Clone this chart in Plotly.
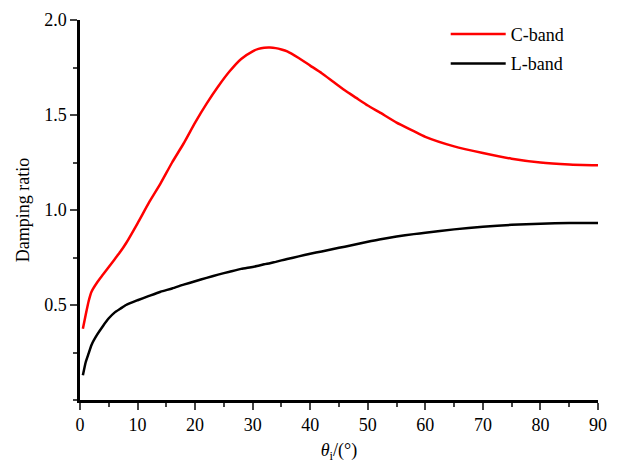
import plotly.graph_objects as go

theta = [0.5, 1, 1.5, 2, 3, 4, 5, 6, 7, 8, 10, 12, 14, 16, 18, 20, 22, 24, 26, 28,
         30, 31, 32, 33, 34, 35, 36, 38, 40, 42, 44, 46, 48, 50, 52, 55, 58, 60,
         65, 70, 75, 80, 85, 90]

c_band = [0.375, 0.45, 0.52, 0.57, 0.62, 0.66, 0.70, 0.74, 0.78, 0.825, 0.93, 1.04,
          1.14, 1.25, 1.35, 1.46, 1.56, 1.65, 1.73, 1.795, 1.835, 1.848, 1.854, 1.855,
          1.852, 1.845, 1.835, 1.80, 1.76, 1.72, 1.675, 1.63, 1.59, 1.55, 1.515, 1.46,
          1.415, 1.385, 1.335, 1.30, 1.27, 1.25, 1.24, 1.235]

l_band = [0.13, 0.20, 0.245, 0.29, 0.345, 0.39, 0.43, 0.46, 0.48, 0.50, 0.525, 0.548,
          0.57, 0.587, 0.607, 0.625, 0.643, 0.66, 0.675, 0.69, 0.70, 0.707, 0.714, 0.72,
          0.727, 0.735, 0.742, 0.756, 0.77, 0.782, 0.795, 0.807, 0.82, 0.833, 0.845,
          0.86, 0.873, 0.88, 0.898, 0.912, 0.922, 0.928, 0.932, 0.932]

x_ticks = [0, 10, 20, 30, 40, 50, 60, 70, 80, 90]
y_ticks = [0.5, 1.0, 1.5, 2.0]
y_tick_text = ["0.5", "1.0", "1.5", "2.0"]

FONT = "Liberation Serif, Times New Roman, serif"
FS = 18

fig = go.Figure()
fig.add_trace(go.Scatter(x=theta, y=c_band, mode="lines", name="C-band", legendgroup="c",
                         line=dict(color="#ff0000", width=2.5, shape="spline", smoothing=0.5)))
fig.add_trace(go.Scatter(x=theta, y=l_band, mode="lines", name="L-band", legendgroup="l",
                         line=dict(color="#000000", width=2.5, shape="spline", smoothing=0.5)))

# page body has an 8px default margin, so the figure is 8px smaller than the window
fig.update_layout(
    width=616, height=455,
    margin=dict(l=72, r=26, t=8, b=63),
    paper_bgcolor="white", plot_bgcolor="white",
    font=dict(family=FONT, size=FS, color="black"),
    showlegend=True,
    legend=dict(x=0.706, y=1.011, xanchor="left", yanchor="top",
                bgcolor="rgba(0,0,0,0)", font=dict(family=FONT, size=FS),
                itemwidth=55, tracegroupgap=3),
    xaxis=dict(
        range=[0, 90], tickvals=x_ticks, ticks="outside", ticklen=7, tickwidth=2,
        showline=True, linewidth=2.5, linecolor="black", showgrid=False, zeroline=False,
        minor=dict(dtick=5, ticks="outside", ticklen=4, tickwidth=2, showgrid=False),
        title=dict(text="<i>θ</i><sub>i</sub>/(°)", font=dict(family=FONT, size=FS), standoff=13),
        tickfont=dict(family=FONT, size=FS),
        ticklabeloverflow="allow",
        automargin=False,
    ),
    yaxis=dict(
        range=[0, 2.0], tickvals=y_ticks, ticktext=y_tick_text, ticks="outside",
        ticklen=7, tickwidth=2,
        showline=True, linewidth=2.5, linecolor="black", showgrid=False, zeroline=False,
        minor=dict(tick0=0, dtick=0.25, ticks="outside", ticklen=4, tickwidth=2, showgrid=False),
        title=dict(text="Damping ratio", font=dict(family=FONT, size=FS), standoff=10),
        tickfont=dict(family=FONT, size=FS),
        ticklabeloverflow="allow",
        automargin=False,
    ),
)

fig.write_html("out.html")
